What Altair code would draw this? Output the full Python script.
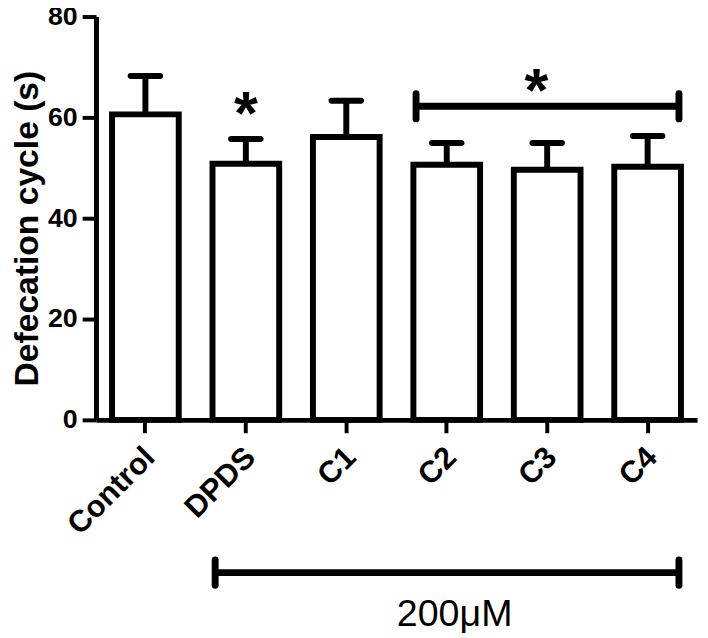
import altair as alt
import pandas as pd

# ---- data ----
groups = ["Control", "DPDS", "C1", "C2", "C3", "C4"]
means = [60.6, 50.8, 56.1, 50.6, 49.6, 50.2]
sems = [7.6, 4.9, 7.2, 4.3, 5.3, 6.1]

star_groups = ["DPDS", "C3"]
star_values = [62.4, 67.0]

bracket_starts = ["C2", "DPDS"]
bracket_ends = ["C4", "C4"]
bracket_values = [62.2, -30.3]
bracket_cap_half = 2.5

dose_label = "200μM"
dose_group = "C2"
dose_value = -40.8

y_ticks = [0, 20, 40, 60, 80]
y_title = "Defecation cycle (s)"

FONT = "Liberation Sans"

# ---- tables ----
bars_df = pd.DataFrame({
    "group": groups,
    "mean": means,
    "top": [m + s for m, s in zip(means, sems)],
})
br_df = pd.DataFrame({"start": bracket_starts, "end": bracket_ends, "y": bracket_values})
cap_rows = []
for s, e, v in zip(bracket_starts, bracket_ends, bracket_values):
    cap_rows.append({"g": s, "y1": v - bracket_cap_half, "y2": v + bracket_cap_half, "side": "L"})
    cap_rows.append({"g": e, "y1": v - bracket_cap_half, "y2": v + bracket_cap_half, "side": "R"})
caps_df = pd.DataFrame(cap_rows)
star1_df = pd.DataFrame({"group": star_groups[:1], "y": star_values[:1]})
star2_df = pd.DataFrame({"group": star_groups[1:], "y": star_values[1:]})
dose_df = pd.DataFrame({"group": [dose_group], "y": [dose_value], "t": [dose_label]})

xscale = alt.Scale(domain=groups, paddingInner=0.336, paddingOuter=0.16)
yscale = alt.Scale(domain=[0, 80], nice=False, zero=True)
yaxis = alt.Axis(values=y_ticks)

BL, BR = 0.04, 0.97


def X(field, **kw):
    return alt.X(field, scale=xscale, title=None, **kw)


def Y(field):
    return alt.Y(field, scale=yscale, title=y_title, axis=yaxis)


bars = alt.Chart(bars_df).mark_bar(fill="white", stroke="black", strokeWidth=6).encode(
    x=X("group:N"),
    y=Y("mean:Q"),
)

stems = alt.Chart(bars_df).mark_rule(color="black", strokeWidth=6).encode(
    x=X("group:N"),
    y=Y("mean:Q"),
    y2="top:Q",
)

caps = alt.Chart(bars_df).mark_tick(color="black", size=36, thickness=6, cornerRadius=3, opacity=1).encode(
    x=X("group:N"),
    y=Y("top:Q"),
)

bracket_lines = alt.Chart(br_df).mark_rule(color="black", strokeWidth=7).encode(
    x=X("start:N", bandPosition=BL),
    x2=alt.X2("end", bandPosition=BR),
    y=Y("y:Q"),
)

capL = alt.Chart(caps_df).transform_filter(alt.datum.side == "L").mark_rule(
    color="black", strokeWidth=7, strokeCap="round").encode(
    x=X("g:N", bandPosition=BL),
    y=Y("y1:Q"),
    y2="y2:Q",
)
capR = alt.Chart(caps_df).transform_filter(alt.datum.side == "R").mark_rule(
    color="black", strokeWidth=7, strokeCap="round").encode(
    x=X("g:N", bandPosition=BR),
    y=Y("y1:Q"),
    y2="y2:Q",
)

star1 = alt.Chart(star1_df).mark_text(
    text="*", font=FONT, fontSize=62, fontWeight="bold", color="black",
    baseline="alphabetic", align="center", dy=29).encode(
    x=X("group:N"),
    y=Y("y:Q"),
)
star2 = alt.Chart(star2_df).mark_text(
    text="*", font=FONT, fontSize=62, fontWeight="bold", color="black",
    baseline="alphabetic", align="center", dy=29, dx=-11).encode(
    x=X("group:N"),
    y=Y("y:Q"),
)

dose = alt.Chart(dose_df).mark_text(
    font=FONT, fontSize=38, color="black", baseline="alphabetic", align="center", dx=8).encode(
    x=X("group:N"),
    y=Y("y:Q"),
    text="t:N",
)

chart = alt.layer(bars, stems, caps, bracket_lines, capL, capR, star1, star2, dose).properties(
    width=608,
    height=408,
    autosize=alt.AutoSizeParams(type="none"),
    padding={"left": 89, "top": 5, "right": 3, "bottom": 217},
    background="white",
).configure_view(stroke=None).configure_axis(
    domainColor="black", domainWidth=5, tickColor="black", tickWidth=4,
    labelFont=FONT, labelFontWeight="bold", labelColor="black",
    titleFont=FONT, titleFontWeight="bold", titleColor="black", grid=False,
).configure_axisY(
    labelFontSize=27, tickSize=14, labelPadding=5, titleFontSize=34,
    titleX=-59, titleY=214, titleBaseline="alphabetic", titleAlign="center",
).configure_axisX(
    labelAngle=-45, labelFontSize=31, tickSize=13, labelAlign="right",
    labelBaseline="middle", labelPadding=20, labelOffset=5,
)

chart.save("out.html", embed_options={"renderer": "svg", "actions": False})
